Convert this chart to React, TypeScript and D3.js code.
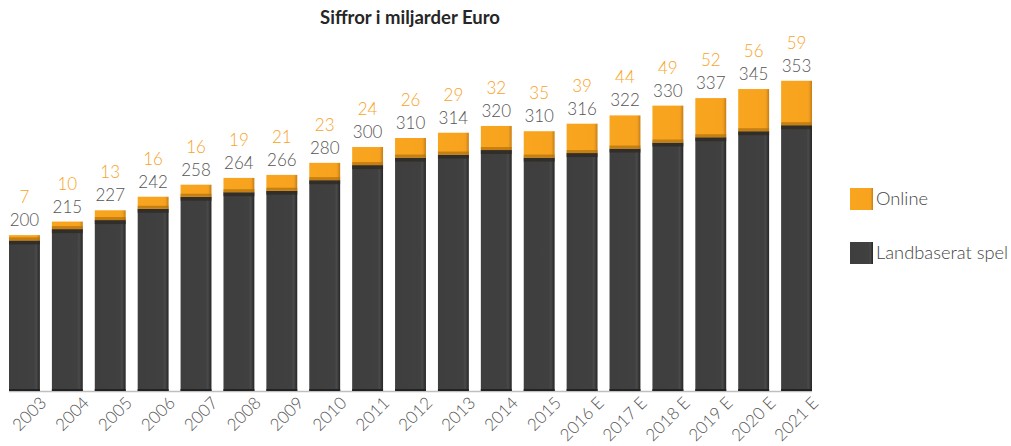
import React from "react";
import * as d3 from "d3";

const years = ["2003","2004","2005","2006","2007","2008","2009","2010","2011","2012","2013","2014","2015","2016 E","2017 E","2018 E","2019 E","2020 E","2021 E"];
const online = [7,10,13,16,16,19,21,23,24,26,29,32,35,39,44,49,52,56,59];
const land = [200,215,227,242,258,264,266,280,300,310,314,320,310,316,322,330,337,345,353];

const W = 1011, H = 446;
const ORANGE = "#F8A31E";

export default function App() {
  const x = d3.scaleBand<string>().domain(years).range([9, 812]).paddingInner(0.28).paddingOuter(0);
  const y = d3.scaleLinear().domain([0, 450]).range([391, 391 - 450 * 0.753]);
  const bw = x.bandwidth();
  const font = "Lato, 'Open Sans', sans-serif";
  return (
    <svg width={W} height={H} style={{ position: "absolute", left: 0, top: 0 }}>
      <defs>
        <linearGradient id="gDark" x1="0" x2="1" y1="0" y2="0">
          <stop offset="0" stopColor="#3e3e3e" />
          <stop offset="0.82" stopColor="#404040" />
          <stop offset="0.88" stopColor="#4a4a4a" />
          <stop offset="1" stopColor="#262626" />
        </linearGradient>
        <linearGradient id="gOrange" x1="0" x2="1" y1="0" y2="0">
          <stop offset="0" stopColor="#F8A51F" />
          <stop offset="0.84" stopColor="#F8A31E" />
          <stop offset="0.9" stopColor="#F2A024" />
          <stop offset="1" stopColor="#C67D0E" />
        </linearGradient>
      </defs>
      <text x={410} y={24} textAnchor="middle" fontFamily={font} fontWeight={700} fontSize={18.5} fill="#262626">Siffror i miljarder Euro</text>
      <line x1={9} x2={812} y1={y(0) + 0.5} y2={y(0) + 0.5} stroke="#bfbfbf" strokeWidth={1.5} />
      {years.map((yr, i) => {
        const x0 = x(yr)!;
        const yl = y(land[i]);
        const yt = y(land[i] + online[i]);
        const cx = x0 + bw / 2;
        return (
          <g key={yr}>
            <rect x={x0} y={yl} width={bw} height={y(0) - yl} fill="url(#gDark)" />
            <rect x={x0} y={yl} width={bw} height={4} fill="#2e2a24" opacity={0.8} />
            <rect x={x0} y={y(0) - 2} width={bw} height={2} fill="#222" />
            <rect x={x0} y={yt} width={bw} height={yl - yt} fill="url(#gOrange)" />
            <rect x={x0} y={yl - 3} width={bw} height={3} fill="#B0700C" opacity={0.7} />
            <text x={cx} y={yt - 9} textAnchor="middle" fontFamily={font} fontWeight={300} fontSize={17} fill="#555">{land[i]}</text>
            <text x={cx} y={yt - 32} textAnchor="middle" fontFamily={font} fontWeight={300} fontSize={17} fill={ORANGE}>{online[i]}</text>
            <text transform={`translate(${cx + 23},${y(0) + 13}) rotate(-45)`} textAnchor="end" fontFamily={font} fontWeight={300} fontSize={17} fill="#555">{yr}</text>
          </g>
        );
      })}
      <rect x={850} y={188} width={23} height={22} fill="url(#gOrange)" />
      <text x={876} y={205} fontFamily={font} fontWeight={300} fontSize={18.3} fill="#444">Online</text>
      <rect x={850} y={242} width={23} height={22} fill="url(#gDark)" />
      <text x={876} y={259} fontFamily={font} fontWeight={300} fontSize={18.3} fill="#444">Landbaserat spel</text>
    </svg>
  );
}
